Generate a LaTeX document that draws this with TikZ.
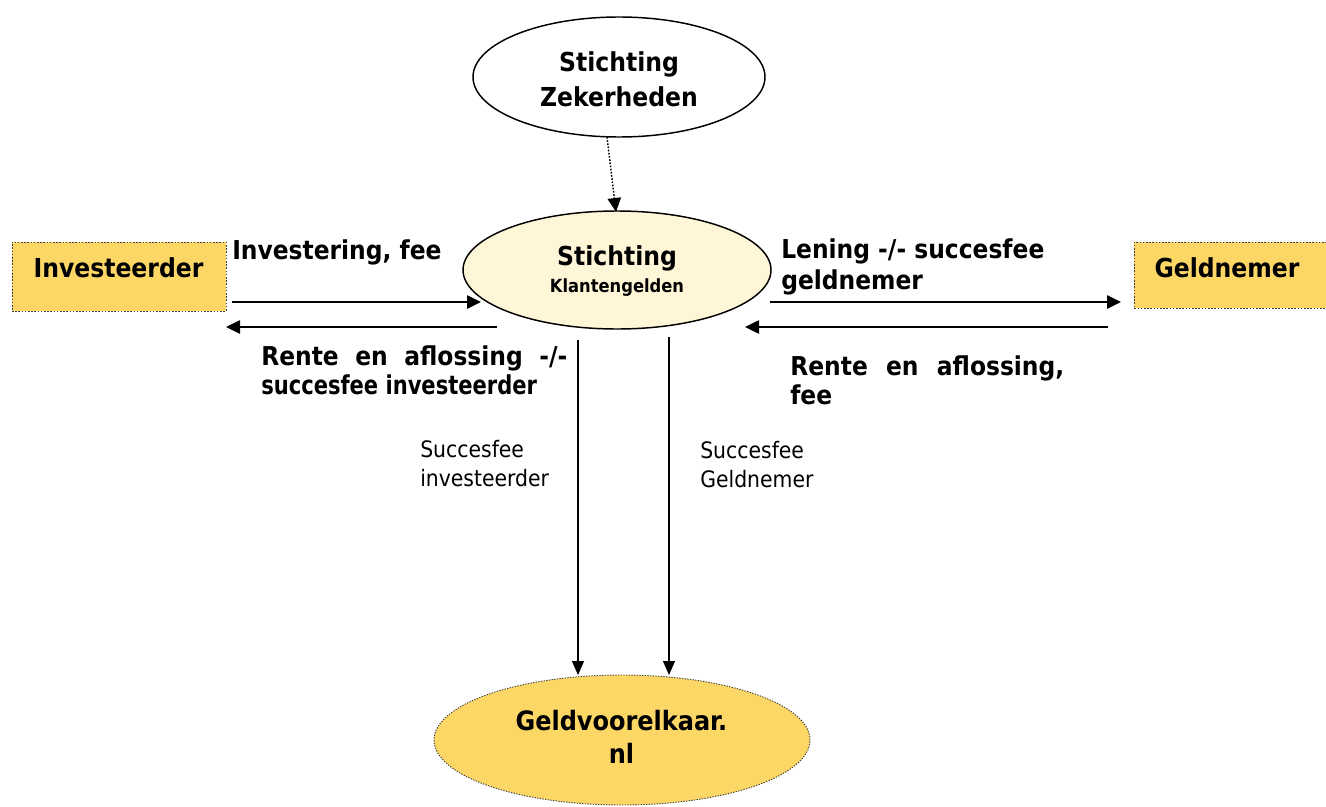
\documentclass[tikz,border=0pt]{standalone}
\usepackage{fontspec}
\setmainfont{DejaVu Sans Condensed}
\usetikzlibrary{shapes.geometric,arrows.meta}
\tikzset{
  box/.style={draw=black!75, dash pattern=on 1.2pt off 1.2pt, fill=boxfill, inner sep=0pt, line width=0.7pt},
  ell/.style={ellipse, draw, inner sep=0pt, line width=1.1pt},
  arr/.style={-{Triangle[length=10.5pt,width=10pt]}, line width=1.1pt},
  varr/.style={-{Triangle[length=10.5pt,width=9pt]}, line width=0.8pt},
  big/.style={font=\bfseries\fontsize{19.6}{24}\selectfont, inner sep=0pt, anchor=base},
  lbl/.style={font=\bfseries\fontsize{19.5}{21.75}\selectfont, inner sep=0pt, anchor=north west, align=left},
  slbl/.style={font=\fontsize{17}{21.75}\selectfont, inner sep=0pt, anchor=north west, align=left}
}
\definecolor{boxfill}{HTML}{FCD766}
\definecolor{cream}{HTML}{FFF5D7}
\begin{document}
\begin{tikzpicture}[x=0.75pt,y=-0.75pt]
\useasboundingbox (0,0) rectangle (1326,806);
% shapes
\node[ell, fill=white, minimum width={292*0.75pt}, minimum height={120*0.75pt}] (sz) at (619,77) {};
\node[ell, fill=cream, minimum width={308*0.75pt}, minimum height={118*0.75pt}] (sk) at (617,270) {};
\node[box, minimum width={214*0.75pt}, minimum height={69*0.75pt}] (inv) at (119,276.5) {};
\node[box, minimum width={220*0.75pt}, minimum height={66*0.75pt}, anchor=west] (gn) at (1134,275) {};
\node[ell, fill=boxfill, draw=black!75, dash pattern=on 1pt off 1pt, line width=0.7pt,
      minimum width={376*0.75pt}, minimum height={130*0.75pt}] (gv) at (622,740) {};
% node texts
\node[big] (szt1) at (619,72) {Stichting};
\node[big] (szt2) at (619,107) {Zekerheden};
\node[big] (skt1) at (617,265) {Stichting};
\node[big, font=\bfseries\fontsize{13.6}{16}\selectfont] (skt2) at (617,292) {Klantengelden};
\node[big] (invt) at (118.5,277) {Investeerder};
\node[big] (gnt) at (1227,277) {Geldnemer};
\node[big, font=\bfseries\fontsize{20}{24}\selectfont] (gvt1) at (621.5,730) {Geldvoorelkaar.};
\node[big, font=\bfseries\fontsize{20}{24}\selectfont] (gvt2) at (621.5,763) {nl};
% coordinates
\coordinate (zs) at (607,137);
\coordinate (ze) at (616,212);
\coordinate (a1s) at (232,302);
\coordinate (a1e) at (481,302);
\coordinate (a2s) at (497,327);
\coordinate (a2e) at (226,327);
\coordinate (a3s) at (770,302);
\coordinate (a3e) at (1121,302);
\coordinate (a4s) at (1108,327);
\coordinate (a4e) at (745,327);
\coordinate (v1s) at (578,340);
\coordinate (v1e) at (578,675);
\coordinate (v2s) at (669,337);
\coordinate (v2e) at (669,675);
% connectors
\draw[arr, dash pattern=on 1.2pt off 1.2pt] (zs) -- (ze);
\draw[arr] (a1s) -- (a1e);
\draw[arr] (a2s) -- (a2e);
\draw[arr] (a3s) -- (a3e);
\draw[arr] (a4s) -- (a4e);
\draw[varr] (v1s) -- (v1e);
\draw[varr] (v2s) -- (v2e);
% labels
\node[lbl] (l1) at (232,239) {Investering, fee};
\node[lbl] (l2) at (261,345) {\makebox[229.5pt][s]{Rente en aflossing -/-}\\\scalebox{0.9}[1]{succesfee investeerder}};
\node[lbl, font=\bfseries\fontsize{19.5}{23.25}\selectfont] (l3) at (781,238) {Lening -/- succesfee\\geldnemer};
\node[lbl] (l4) at (790,355) {\makebox[205.5pt][s]{Rente en aflossing,}\\fee};
\node[slbl] (l5) at (420,440) {Succesfee\\investeerder};
\node[slbl] (l6) at (700,441) {Succesfee\\Geldnemer};
\end{tikzpicture}
\end{document}
